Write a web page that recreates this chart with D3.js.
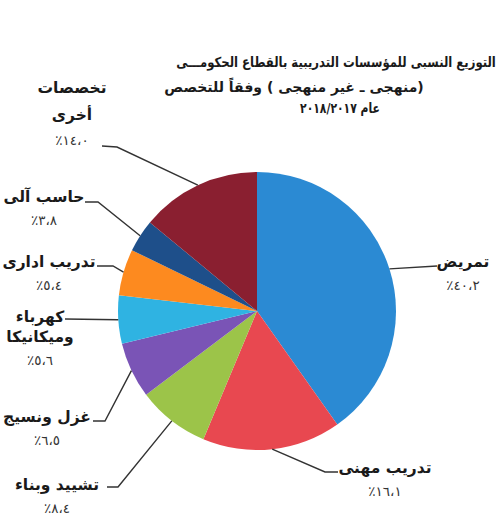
<!DOCTYPE html>
<html><head><meta charset="utf-8">
<script src="https://cdn.jsdelivr.net/npm/d3@7"></script>
<style>body{margin:0;background:#fff}svg{display:block}</style>
</head><body>
<svg id="c" width="500" height="520"></svg>
<script>
// Data
const categories = ["تمريض","تدريب مهنى","تشييد وبناء","غزل ونسيج","كهرباء وميكانيكا","تدريب ادارى","حاسب آلى","تخصصات أخرى"];
const values = [40.2, 16.1, 8.4, 6.5, 5.6, 5.4, 3.8, 14.0];
const valueLabels = ["٪٤٠،٢","٪١٦،١","٪٨،٤","٪٦،٥","٪٥،٦","٪٥،٤","٪٣،٨","٪١٤،٠"];
const colors = ["#2b8ad3","#e84850","#9cc449","#7a54b6","#2fb3e2","#fd8a1f","#1e4f8a","#8a1f30"];
const titleLines = ["التوزيع النسبى للمؤسسات التدريبية بالقطاع الحكومـــى","(منهجى ـ غير منهجى )  وفقاً للتخصص","عام ٢٠١٨/٢٠١٧"];

// Layout (label lines, centres, leader elbows)
const labelLayout = [
  {lines:["تمريض"], x:463, y:262, elbow:[[437,266]]},
  {lines:["تدريب مهنى"], x:385, y:468, elbow:[[325,472],[338,472]]},
  {lines:["تشييد وبناء"], x:57, y:485, elbow:[[118,487],[107,487]]},
  {lines:["غزل ونسيج"], x:47, y:417, elbow:[[105,421],[93,421]]},
  {lines:["كهرباء","وميكانيكا"], x:40, y:317, elbow:[[65,319]]},
  {lines:["تدريب ادارى"], x:49, y:262, elbow:[[113,266],[97,266]]},
  {lines:["حاسب آلى"], x:44, y:197, elbow:[[98,202],[85,202]]},
  {lines:["تخصصات","أخرى"], x:72, y:88, elbow:[[117,147],[102,146]]}
];
const lineGap = [0,0,0,0,20,0,0,27];

const svg = d3.select("#c");
const cx = 257, cy = 311, R = 139;
const font = "'DejaVu Sans', sans-serif";

// Title, squeezed horizontally to the reference widths
const titleCx = [336, 294, 340], titleY = [62, 87, 108], titleW = [320, 290, 80];
titleLines.forEach((t,i)=>{
  const el = svg.append("text").attr("x",0).attr("y",0).attr("dy","0.35em")
    .attr("text-anchor","middle").attr("direction","rtl")
    .attr("font-family",font).attr("font-weight","bold").attr("font-size",14)
    .attr("fill","#1a1a1a").text(t);
  const w = el.node().getComputedTextLength();
  const k = w > 0 ? Math.min(1, titleW[i]/w) : 1;
  el.attr("transform",`translate(${titleCx[i]},${titleY[i]}) scale(${k},1)`);
});

const pie = d3.pie().sort(null).value(d=>d)(values);
const arc = d3.arc().innerRadius(0).outerRadius(R);
const g = svg.append("g").attr("transform",`translate(${cx},${cy})`);
g.selectAll("path").data(pie).join("path").attr("d",arc).attr("fill",(d,i)=>colors[i]);

// leaders + labels
pie.forEach((d,i)=>{
  const a = (d.startAngle+d.endAngle)/2;
  const p0 = [cx + R*Math.sin(a), cy - R*Math.cos(a)];
  const L = labelLayout[i];
  const pts = [p0, ...L.elbow];
  svg.append("path").attr("d", d3.line()(pts)).attr("fill","none")
    .attr("stroke","#333").attr("stroke-width",1.4);
  const gap = lineGap[i]||20;
  L.lines.forEach((t,j)=>{
    svg.append("text").attr("x",L.x).attr("y",L.y + j*gap).attr("dy","0.35em")
      .attr("text-anchor","middle").attr("direction","rtl")
      .attr("font-family",font).attr("font-weight","bold").attr("font-size",15.5)
      .attr("fill","#1a1a1a").text(t);
  });
  const vy = L.y + (L.lines.length-1)*gap + (i===7?25:23);
  svg.append("text").attr("x",L.x).attr("y",vy).attr("dy","0.35em")
    .attr("text-anchor","middle").style("direction","ltr").style("unicode-bidi","bidi-override")
    .attr("font-family",font).attr("font-size",13.5).attr("letter-spacing",1.5)
    .attr("fill","#333").text(valueLabels[i]);
});
</script>
</body></html>
